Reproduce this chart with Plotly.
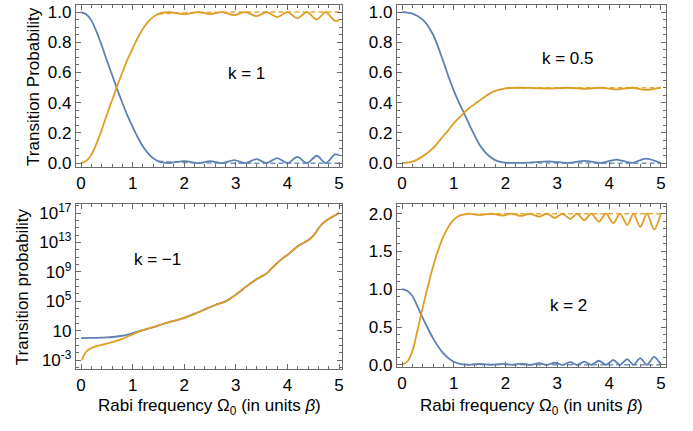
import numpy as np
import plotly.graph_objects as go

W, H = 693, 431
BLUE = "#5E81B5"
ORANGE = "#E19C24"
FRAME = "#6b6b6b"
FONT = "Liberation Sans, Arial, sans-serif"

# ---------------- k = 1 ----------------
k1_x = [0, 0.1, 0.2, 0.3, 0.4, 0.5, 0.6, 0.7, 0.8, 0.9, 1.0, 1.1, 1.2, 1.3, 1.4, 1.5, 1.6,
        1.72, 2.0, 2.28, 2.5, 2.74, 2.97, 3.18, 3.4, 3.6, 3.8, 4.0, 4.19, 4.38, 4.57, 4.74, 4.92, 5.0]
k1_p1 = [1.0, 0.985, 0.945, 0.87, 0.78, 0.68, 0.585, 0.49, 0.4, 0.315, 0.24, 0.17, 0.11, 0.065, 0.032, 0.012, 0.003,
         0.001, 0.014, 0.0, 0.014, 0.0, 0.02, 0.0, 0.027, 0.0, 0.034, 0.0, 0.041, 0.0, 0.049, 0.0, 0.058, 0.055]
k1_p2 = [0.0, 0.015, 0.055, 0.13, 0.22, 0.32, 0.415, 0.51, 0.6, 0.685, 0.76, 0.83, 0.89, 0.935, 0.968, 0.988, 0.997,
         0.999, 0.986, 1.0, 0.986, 1.0, 0.98, 1.0, 0.973, 1.0, 0.966, 1.0, 0.959, 1.0, 0.951, 1.0, 0.942, 0.945]
k1_dash_x = [1.5, 2.0, 3.0, 4.0, 5.0]
k1_dash_p1 = [0.012, 0.004, 0.0, 0.0, 0.0]
k1_dash_p2 = [0.988, 0.996, 1.0, 1.0, 1.0]

# ---------------- k = 0.5 ----------------
k05_x = [0, 0.2, 0.4, 0.6, 0.8, 0.9, 1.0, 1.1, 1.2, 1.3, 1.4, 1.5, 1.6, 1.7, 1.8, 1.9, 2.0,
         2.2, 2.45, 2.83, 3.2, 3.53, 3.85, 4.14, 4.44, 4.71, 5.0]
k05_p1 = [1.0, 0.99, 0.95, 0.85, 0.67, 0.57, 0.48, 0.4, 0.33, 0.255, 0.185, 0.12, 0.075, 0.042, 0.02, 0.008, 0.003,
          0.002, 0.004, 0.012, 0.002, 0.015, 0.002, 0.024, 0.002, 0.03, 0.0]
k05_p2 = [0.0, 0.01, 0.045, 0.1, 0.18, 0.22, 0.265, 0.3, 0.335, 0.365, 0.39, 0.415, 0.44, 0.462, 0.478, 0.488, 0.495,
          0.499, 0.498, 0.494, 0.499, 0.4925, 0.499, 0.488, 0.499, 0.485, 0.5]
k05_dash_x = [2.0, 3.0, 4.0, 5.0]
k05_dash_p1 = [0.003, 0.0, 0.0, 0.0]
k05_dash_p2 = [0.498, 0.5, 0.5, 0.5]

# ---------------- k = -1 (log scale, values given as log10) ----------------
km1_x_p1_low = [0, 0.2, 0.4, 0.5, 0.6, 0.7, 0.8, 0.9, 1.0, 1.1, 1.2]
km1_log_p1_low = [0.0, 0.02, 0.06, 0.1, 0.15, 0.22, 0.32, 0.48, 0.68, 0.9, 1.1]
km1_x_p2_low = [0.02, 0.05, 0.1, 0.15, 0.2, 0.3, 0.4, 0.5, 0.6, 0.7, 0.8, 0.9, 1.0, 1.1, 1.2]
km1_log_p2_low = [-3.0, -2.4, -1.85, -1.55, -1.35, -1.1, -0.92, -0.75, -0.55, -0.35, -0.1, 0.2, 0.5, 0.82, 1.08]
km1_x_high = [1.3, 1.4, 1.6, 1.8, 2.0, 2.2, 2.4, 2.6, 2.8, 3.0, 3.2, 3.4, 3.5, 3.6, 3.7, 3.8, 3.9,
              4.0, 4.1, 4.2, 4.3, 4.4, 4.5, 4.6, 4.7, 4.8, 4.9, 5.0]
km1_log_high = [1.3, 1.5, 1.95, 2.35, 2.75, 3.3, 3.9, 4.5, 5.0, 5.9, 7.0, 8.0, 8.4, 8.8, 9.5, 10.2, 10.8,
                11.3, 11.9, 12.5, 12.9, 13.3, 13.9, 14.9, 15.7, 16.2, 16.6, 17.0]
km1_tick_exp = [-3, 1, 5, 9, 13, 17]
km1_tick_text = ["10<sup>-3</sup>", "10", "10<sup>5</sup>", "10<sup>9</sup>", "10<sup>13</sup>", "10<sup>17</sup>"]

# ---------------- k = 2 ----------------
k2_x = [0, 0.1, 0.2, 0.3, 0.4, 0.5, 0.6, 0.7, 0.8, 0.9, 1.0, 1.1, 1.2, 1.3,
        1.5, 1.72, 1.95, 2.12, 2.3, 2.47, 2.65, 2.8, 2.95, 3.1, 3.25, 3.38, 3.52, 3.66, 3.8, 3.94,
        4.08, 4.21, 4.35, 4.47, 4.6, 4.73, 4.87, 5.0]
k2_p1 = [1.0, 0.98, 0.91, 0.77, 0.62, 0.48, 0.35, 0.24, 0.15, 0.085, 0.04, 0.015, 0.004, 0.0,
         0.01, 0.0, 0.012, 0.0, 0.015, 0.0, 0.02, 0.0, 0.027, 0.0, 0.035, 0.0, 0.043, 0.0, 0.053, 0.0,
         0.063, 0.0, 0.075, 0.0, 0.088, 0.0, 0.105, 0.0]
k2_p2 = [0.0, 0.04, 0.18, 0.46, 0.76, 1.04, 1.3, 1.52, 1.7, 1.83, 1.92, 1.97, 1.99, 2.0,
         1.98, 2.0, 1.976, 2.0, 1.97, 2.0, 1.96, 2.0, 1.946, 2.0, 1.93, 2.0, 1.914, 2.0, 1.894, 2.0,
         1.874, 2.0, 1.85, 2.0, 1.824, 2.0, 1.79, 2.0]
k2_dash_x = [1.2, 2.0, 3.0, 4.0, 5.0]
k2_dash_p1 = [0.004, 0.0, 0.0, 0.0, 0.0]
k2_dash_p2 = [1.99, 2.0, 2.0, 2.0, 2.0]

# panel frames in pixels: (left, top, right, bottom)
boxes = {
    "tl": (76, 2, 343, 168),
    "tr": (398, 2, 668, 168),
    "bl": (76, 206, 343, 375),
    "br": (398, 206, 668, 373),
}


def dom_x(b):
    return [b[0] / W, b[2] / W]


def dom_y(b):
    return [(H - b[3]) / H, (H - b[1]) / H]


fig = go.Figure()


def solid(x, y, color, xa, ya):
    fig.add_trace(go.Scatter(x=x, y=y, mode="lines", xaxis=xa, yaxis=ya,
                             line=dict(color=color, width=1.8, shape="spline", smoothing=0.8),
                             showlegend=False, hoverinfo="skip"))


def dashed(x, y, color, xa, ya):
    fig.add_trace(go.Scatter(x=x, y=y, mode="lines", xaxis=xa, yaxis=ya, opacity=0.85,
                             line=dict(color=color, width=1.5, dash="5px,3px"),
                             showlegend=False, hoverinfo="skip"))


# k = 1
solid(k1_x, k1_p1, BLUE, "x", "y")
solid(k1_x, k1_p2, ORANGE, "x", "y")
dashed(k1_dash_x, k1_dash_p1, BLUE, "x", "y")
dashed(k1_dash_x, k1_dash_p2, ORANGE, "x", "y")
# k = 0.5
solid(k05_x, k05_p1, BLUE, "x2", "y2")
solid(k05_x, k05_p2, ORANGE, "x2", "y2")
dashed(k05_dash_x, k05_dash_p1, BLUE, "x2", "y2")
dashed(k05_dash_x, k05_dash_p2, ORANGE, "x2", "y2")
# k = -1
solid(km1_x_p1_low + km1_x_high, np.power(10.0, km1_log_p1_low + km1_log_high), BLUE, "x3", "y3")
solid(km1_x_p2_low + km1_x_high, np.power(10.0, km1_log_p2_low + km1_log_high), ORANGE, "x3", "y3")
# k = 2
solid(k2_x, k2_p1, BLUE, "x4", "y4")
solid(k2_x, k2_p2, ORANGE, "x4", "y4")
dashed(k2_dash_x, k2_dash_p1, BLUE, "x4", "y4")
dashed(k2_dash_x, k2_dash_p2, ORANGE, "x4", "y4")

tickfont = dict(family=FONT, size=17, color="#000000")
common = dict(showgrid=False, zeroline=False, showline=True, linecolor=FRAME, linewidth=1,
              mirror="ticks", ticks="inside", ticklen=5, tickcolor=FRAME, tickwidth=1,
              tickfont=tickfont, fixedrange=True)


def xaxis(box, rng, anchor):
    return dict(common, domain=dom_x(box), range=rng, anchor=anchor, tickmode="array",
                tickvals=[0, 1, 2, 3, 4, 5], ticktext=["0", "1", "2", "3", "4", "5"],
                minor=dict(ticks="inside", ticklen=3, tickcolor=FRAME, dtick=0.2, tick0=0, showgrid=False))


def yaxis_lin(box, rng, anchor, dtick, mdtick):
    return dict(common, domain=dom_y(box), range=rng, anchor=anchor, dtick=dtick, tick0=0,
                tickformat=".1f",
                minor=dict(ticks="inside", ticklen=3, tickcolor=FRAME, dtick=mdtick, tick0=0, showgrid=False))


layout = dict(
    width=W, height=H, margin=dict(l=0, r=0, t=0, b=0),
    paper_bgcolor="white", plot_bgcolor="white",
    font=dict(family=FONT, size=17, color="#000000"),
    xaxis=xaxis(boxes["tl"], [-0.102, 5.058], "y"),
    yaxis=yaxis_lin(boxes["tl"], [-0.026, 1.047], "x", 0.2, 0.05),
    xaxis2=xaxis(boxes["tr"], [-0.1, 5.1], "y2"),
    yaxis2=yaxis_lin(boxes["tr"], [-0.026, 1.047], "x2", 0.2, 0.05),
    xaxis3=xaxis(boxes["bl"], [-0.102, 5.058], "y3"),
    yaxis3=dict(common, domain=dom_y(boxes["bl"]), type="log", range=[-4.24, 18.2], anchor="x3",
                tickmode="array", tickvals=[10.0 ** e for e in km1_tick_exp], ticktext=km1_tick_text,
                minor=dict(ticks="inside", ticklen=3, tickcolor=FRAME, showgrid=False,
                           tickmode="array", tickvals=[10.0 ** e for e in range(-4, 19)])),
    xaxis4=xaxis(boxes["br"], [-0.1, 5.1], "y4"),
    yaxis4=yaxis_lin(boxes["br"], [-0.034, 2.125], "x4", 0.5, 0.1),
)
fig.update_layout(**layout)

xtitle = "Rabi frequency \u03a9<sub>0</sub> (in units <i>\u03b2</i>)"
annotations = [
    dict(text="Transition Probability", x=33 / W, y=(H - 85) / H, textangle=-90),
    dict(text="Transition probability", x=22 / W, y=(H - 290) / H, textangle=-90),
    dict(text=xtitle, x=210 / W, y=(H - 414) / H),
    dict(text=xtitle, x=533 / W, y=(H - 414) / H),
    dict(text="k = 1", x=247 / W, y=(H - 72) / H),
    dict(text="k = 0.5", x=570 / W, y=(H - 57) / H),
    dict(text="k = \u22121", x=158 / W, y=(H - 263) / H),
    dict(text="k = 2", x=570 / W, y=(H - 310) / H),
]
for a in annotations:
    fig.add_annotation(xref="paper", yref="paper", showarrow=False, xanchor="center", yanchor="middle",
                       font=dict(family=FONT, size=17, color="#000000"), **a)

fig.write_html("out.html")
